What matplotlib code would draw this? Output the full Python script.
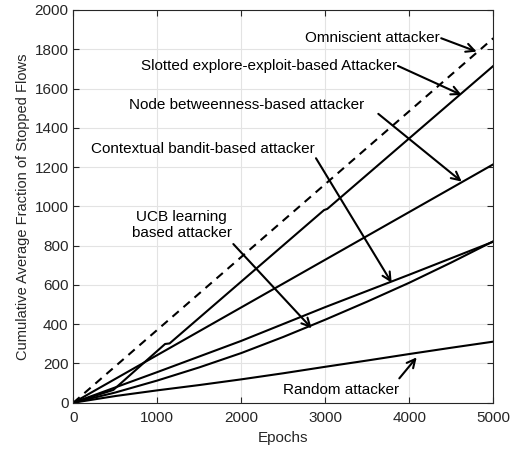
import matplotlib.pyplot as plt

plt.rcParams['font.family'] = ['Liberation Sans', 'DejaVu Sans']

# data (epochs vs cumulative stopped flows)
omni_x = [0, 5000]
omni_y = [0, 1856]

slotted_x = [0, 476, 1092, 1146, 2985, 3024, 5000]
slotted_y = [0, 65, 299, 302, 981, 987, 1715]

node_x = [0, 5000]
node_y = [0, 1214]

ctx_x = [0, 1000, 2000, 3000, 4000, 5000]
ctx_y = [0, 156, 315, 487, 652, 820]

ucb_x = [0, 500, 1000, 1500, 2000, 2500, 3000, 3500, 4000, 4500, 5000]
ucb_y = [0, 52, 113, 180, 253, 335, 423, 515, 611, 714, 822]

rand_x = [0, 500, 1000, 1500, 2000, 2500, 3000, 3500, 4000, 4500, 5000]
rand_y = [0, 34, 63, 90, 119, 150, 183, 215, 248, 280, 311]

fig = plt.figure(figsize=(5.22, 4.53), dpi=100)
ax = fig.add_axes([0.1405, 0.111, 0.8045, 0.867])

ax.plot(omni_x, omni_y, 'k--', lw=1.5, dashes=(4, 3))
ax.plot(slotted_x, slotted_y, 'k-', lw=1.5)
ax.plot(node_x, node_y, 'k-', lw=1.5)
ax.plot(ctx_x, ctx_y, 'k-', lw=1.5)
ax.plot(ucb_x, ucb_y, 'k-', lw=1.5)
ax.plot(rand_x, rand_y, 'k-', lw=1.5)

ax.set_xlim(0, 5000)
ax.set_ylim(0, 2000)
ax.set_xticks(range(0, 5001, 1000))
ax.set_yticks(range(0, 2001, 200))
ax.grid(True, color='#e3e3e3', lw=0.8)
ax.set_axisbelow(True)
ax.tick_params(direction='in', colors='#262626', labelsize=11, length=4,
               top=True, right=True)
ax.tick_params(axis='x', pad=6)
for s in ax.spines.values():
    s.set_color('#262626')
ax.set_xlabel('Epochs', fontsize=11, color='#262626', labelpad=4)
ax.set_ylabel('Cumulative Average Fraction of Stopped Flows', fontsize=10.5,
              color='#262626', labelpad=3)

arrow = dict(arrowstyle='->,head_length=0.6,head_width=0.3', color='k', lw=1.5,
             shrinkA=0, shrinkB=0)
fs = 11
ax.text(4365, 1856, 'Omniscient attacker', ha='right', va='center', fontsize=fs)
ax.annotate('', xy=(4802, 1788), xytext=(4380, 1856), arrowprops=arrow)
ax.text(3850, 1715, 'Slotted explore-exploit-based Attacker', ha='right', va='center', fontsize=fs)
ax.annotate('', xy=(4624, 1567), xytext=(3865, 1715), arrowprops=arrow)
ax.text(2062, 1516, 'Node betweenness-based attacker', ha='center', va='center', fontsize=fs)
ax.annotate('', xy=(4624, 1126), xytext=(3631, 1471), arrowprops=arrow)
ax.text(1548, 1292, 'Contextual bandit-based attacker', ha='center', va='center', fontsize=fs)
ax.annotate('', xy=(3790, 611), xytext=(2889, 1245), arrowprops=arrow)
ax.text(1290, 905, 'UCB learning\nbased attacker', ha='center', va='center', fontsize=fs,
        linespacing=1.25)
ax.annotate('', xy=(2838, 379), xytext=(1905, 808), arrowprops=arrow)
ax.text(3185, 65, 'Random attacker', ha='center', va='center', fontsize=fs)
ax.annotate('', xy=(4088, 231), xytext=(3881, 124), arrowprops=arrow)

plt.savefig('out.png', dpi=100)
